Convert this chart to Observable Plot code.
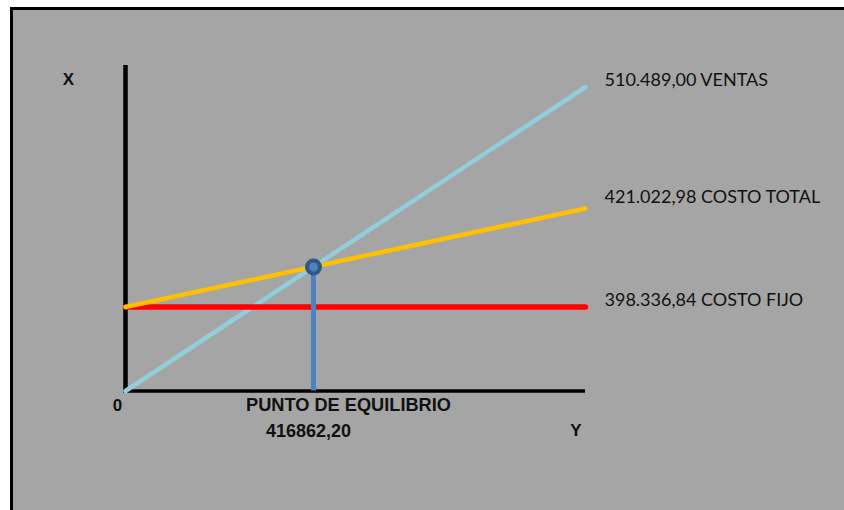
<!DOCTYPE html>
<html>
<head>
<meta charset="utf-8">
<script src="https://cdn.jsdelivr.net/npm/d3@7"></script>
<script src="https://cdn.jsdelivr.net/npm/@observablehq/plot@0.6"></script>
<style>
  html, body { margin: 0; padding: 0; background: #ffffff; }
  #wrap { position: relative; width: 844px; height: 510px; overflow: hidden; }
  #panel {
    position: absolute; left: 10px; top: 7px; width: 840px; height: 510px;
    background: #a5a5a5; border-left: 3px solid #000; border-top: 3px solid #000;
  }
  #chart { position: absolute; left: 0; top: 0; }
</style>
</head>
<body>
<div id="wrap"><div id="panel"></div><div id="chart"></div></div>
<script>
// Break-even analysis: sales, total cost and fixed cost against sales volume
const volume = [0, 510489.00];
const ventas = [0, 510489.00];
const costoTotal = [398336.84, 421022.98];
const costoFijo = [398336.84, 398336.84];
const equilibrio = 416862.20;
const seriesNames = ["VENTAS", "COSTO TOTAL", "COSTO FIJO"];
const axisLabels = { x: "X", y: "Y", origin: "0", equilibrio: "PUNTO DE EQUILIBRIO" };

const es = d3.formatLocale({ decimal: ",", thousands: ".", grouping: [3], currency: ["", ""] });
const fmtGrouped = es.format(",.2f");
const fmtPlain = es.format(".2f");

const toRows = (ys) => volume.map((x, i) => ({ x, y: ys[i] }));
const rowsVentas = toRows(ventas);
const rowsTotal = toRows(costoTotal);
const rowsFijo = toRows(costoFijo);

const last = volume.length - 1;
const endLabels = [
  { name: seriesNames[0], y: ventas[last], dy: -7 },
  { name: seriesNames[1], y: costoTotal[last], dy: -11 },
  { name: seriesNames[2], y: costoFijo[last], dy: -7 }
];

const calibriLike = "Lato, 'Open Sans', sans-serif";
const boldFont = "'Liberation Sans', Arial, sans-serif";

const plot = Plot.plot({
  width: 844,
  height: 510,
  marginLeft: 123,
  marginRight: 259,
  marginTop: 65,
  marginBottom: 118,
  style: { background: "transparent", overflow: "visible" },
  x: { type: "linear", domain: [0, equilibrio, volume[last]], range: [125, 313, 585], axis: null },
  y: { type: "linear", domain: [0, costoFijo[0], equilibrio, costoTotal[last], ventas[last]],
       range: [390.5, 306.5, 266.5, 208, 86.5], axis: null },
  marks: [
    // axes
    Plot.ruleX([0], { stroke: "#000", strokeWidth: 4.5 }),
    Plot.ruleY([0], { stroke: "#000", strokeWidth: 3.5 }),
    // series
    Plot.line(rowsVentas, { x: "x", y: "y", stroke: "#92cddc", strokeWidth: 4.5 }),
    Plot.line(rowsFijo, { x: "x", y: "y", stroke: "#ff0000", strokeWidth: 5.5 }),
    Plot.line(rowsTotal, { x: "x", y: "y", stroke: "#ffc000", strokeWidth: 4.5 }),
    // break-even marker
    Plot.ruleX([equilibrio], { y1: 0, y2: equilibrio, stroke: "#4f81bd", strokeWidth: 5 }),
    Plot.dot([equilibrio], { x: d => d, y: d => d, r: 6.5, fill: "#4f81bd", stroke: "#2f5788", strokeWidth: 4 }),
    // right-hand series labels
    ...endLabels.map(d => Plot.text([d], {
      x: () => volume[last], y: "y",
      text: e => `${fmtGrouped(e.y)} ${e.name}`,
      textAnchor: "start", dx: 19, dy: d.dy,
      fontFamily: calibriLike, fontSize: 18, fill: "#111"
    })),
    // axis annotations
    Plot.text([axisLabels.x], { x: () => 0, y: () => ventas[last], text: d => d, dx: -57, dy: -7,
      fontFamily: boldFont, fontWeight: "bold", fontSize: 17, fill: "#111" }),
    Plot.text([axisLabels.origin], { x: () => 0, y: () => 0, text: d => d, dx: -8, dy: 15,
      fontFamily: boldFont, fontWeight: "bold", fontSize: 17, fill: "#111" }),
    Plot.text([axisLabels.equilibrio], { x: () => equilibrio, y: () => 0, text: d => d, dx: 35, dy: 14.5,
      fontFamily: boldFont, fontWeight: "bold", fontSize: 18.2, fill: "#111" }),
    Plot.text([equilibrio], { x: d => d, y: () => 0, text: d => fmtPlain(d), dx: -5, dy: 40,
      fontFamily: boldFont, fontWeight: "bold", fontSize: 18, fill: "#111" }),
    Plot.text([axisLabels.y], { x: () => volume[last], y: () => 0, text: d => d, dx: -9.5, dy: 40,
      fontFamily: boldFont, fontWeight: "bold", fontSize: 17, fill: "#111" })
  ]
});
document.getElementById("chart").appendChild(plot);
</script>
</body>
</html>
